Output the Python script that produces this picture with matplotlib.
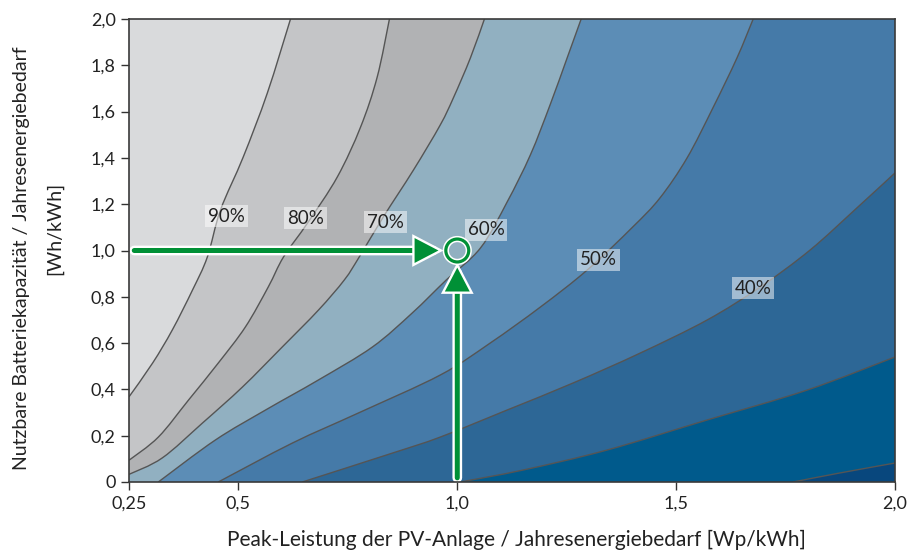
import matplotlib
matplotlib.use("Agg")
import matplotlib.pyplot as plt
from matplotlib import patheffects
from matplotlib.path import Path
from matplotlib.patches import PathPatch

# Isolines of the self-sufficiency share (PV peak power vs. battery capacity,
# both normalised to the annual energy demand)
levels = [90, 80, 70, 60, 50, 40, 30, 20]

iso_90_x = [0.619, 0.566, 0.511, 0.459, 0.429, 0.395, 0.349, 0.304, 0.25]
iso_90_y = [2.0, 1.680, 1.404, 1.175, 0.972, 0.829, 0.657, 0.514, 0.368]

iso_80_x = [0.845, 0.817, 0.779, 0.726, 0.658, 0.603, 0.568, 0.516, 0.454, 0.386, 0.317, 0.25]
iso_80_y = [2.0, 1.749, 1.533, 1.318, 1.119, 0.972, 0.842, 0.670, 0.514, 0.354, 0.194, 0.094]

iso_70_x = [1.062, 1.030, 0.991, 0.961, 0.900, 0.831, 0.776, 0.742, 0.683, 0.600, 0.509, 0.418, 0.326, 0.25]
iso_70_y = [2.0, 1.832, 1.659, 1.542, 1.348, 1.145, 0.972, 0.873, 0.743, 0.583, 0.410, 0.255, 0.104, 0.033]

iso_60_x = [1.283, 1.251, 1.212, 1.167, 1.114, 1.053, 0.975, 0.897, 0.806, 0.683, 0.562, 0.447, 0.317]
iso_60_y = [2.0, 1.832, 1.629, 1.413, 1.210, 1.011, 0.873, 0.730, 0.583, 0.441, 0.311, 0.181, 0.0]

iso_50_x = [1.676, 1.639, 1.584, 1.525, 1.463, 1.400, 1.297, 1.190, 1.075, 0.961, 0.774, 0.623, 0.454]
iso_50_y = [2.0, 1.832, 1.616, 1.400, 1.227, 1.100, 0.916, 0.756, 0.600, 0.462, 0.298, 0.168, 0.0]

iso_40_x = [2.0, 1.913, 1.806, 1.692, 1.571, 1.418, 1.265, 1.114, 0.961, 0.852, 0.646]
iso_40_y = [1.335, 1.184, 1.002, 0.842, 0.700, 0.557, 0.428, 0.311, 0.194, 0.125, 0.0]

iso_30_x = [2.0, 1.799, 1.571, 1.342, 1.151, 1.007]
iso_30_y = [0.540, 0.397, 0.268, 0.138, 0.052, 0.0]

iso_20_x = [2.0, 1.874, 1.767]
iso_20_y = [0.082, 0.039, 0.0]

iso_x = [iso_90_x, iso_80_x, iso_70_x, iso_60_x, iso_50_x, iso_40_x, iso_30_x, iso_20_x]
iso_y = [iso_90_y, iso_80_y, iso_70_y, iso_60_y, iso_50_y, iso_40_y, iso_30_y, iso_20_y]

# label positions for the named isolines
label_text = ["90%", "80%", "70%", "60%", "50%", "40%"]
label_x = [0.473, 0.653, 0.836, 1.066, 1.322, 1.676]
label_y = [1.149, 1.140, 1.123, 1.089, 0.959, 0.838]

x_ticks = [0.25, 0.5, 1.0, 1.5, 2.0]
x_ticklabels = ["0,25", "0,5", "1,0", "1,5", "2,0"]
y_ticks = [0, 0.2, 0.4, 0.6, 0.8, 1.0, 1.2, 1.4, 1.6, 1.8, 2.0]
y_ticklabels = ["0", "0,2", "0,4", "0,6", "0,8", "1,0", "1,2", "1,4", "1,6", "1,8", "2,0"]

example_pv = 1.0
example_bat = 1.0

# colours, above 90 % down to below 20 %
band_colors = ["#d9dadc", "#c4c5c7", "#b1b2b4", "#91b0c1", "#5c8db6",
               "#457aa8", "#2d6796", "#005a8c", "#08477d"]
green = "#009036"

X0, X1, Y0, Y1 = 0.25, 2.0, 0.0, 2.0


def smooth_path(xs, ys):
    """Catmull-Rom through the points, written as cubic bezier segments."""
    p = list(zip(xs, ys))
    verts = [p[0]]
    codes = [Path.MOVETO]
    n = len(p)
    for i in range(n - 1):
        p0 = p[max(i - 1, 0)]
        p1, p2 = p[i], p[i + 1]
        p3 = p[min(i + 2, n - 1)]
        c1 = (p1[0] + (p2[0] - p0[0]) / 6, p1[1] + (p2[1] - p0[1]) / 6)
        c2 = (p2[0] - (p3[0] - p1[0]) / 6, p2[1] - (p3[1] - p1[1]) / 6)
        verts += [c1, c2, p2]
        codes += [Path.CURVE4] * 3
    return verts, codes


plt.rcParams['font.family'] = ['Lato', 'DejaVu Sans']
plt.rcParams['text.color'] = '#222222'

fig = plt.figure(figsize=(9.14, 5.54), dpi=100)
ax = fig.add_axes([129/914, 72/554, 766/914, 463/554])
ax.set_xlim(X0, X1)
ax.set_ylim(Y0, Y1)

# background = lowest band, then stack the regions above-left of every isoline
ax.add_patch(PathPatch(Path([(X0, Y0), (X1, Y0), (X1, Y1), (X0, Y1), (X0, Y0)], closed=True),
                       fc=band_colors[-1], ec='none', zorder=1))
for i in range(len(levels) - 1, -1, -1):
    xs, ys = iso_x[i], iso_y[i]
    verts, codes = smooth_path(xs, ys)
    extra = []
    if ys[-1] == Y0:
        extra.append((X0, Y0))
    extra.append((X0, Y1))
    if xs[0] == X1:
        extra.append((X1, Y1))
    verts = verts + extra + [verts[0]]
    codes = codes + [Path.LINETO] * len(extra) + [Path.CLOSEPOLY]
    ax.add_patch(PathPatch(Path(verts, codes), fc=band_colors[i], ec='none', zorder=1))

for xs, ys in zip(iso_x, iso_y):
    verts, codes = smooth_path(xs, ys)
    ax.add_patch(PathPatch(Path(verts, codes), fc='none', ec='#555555', lw=1.0, zorder=2))

for t, lx, ly in zip(label_text, label_x, label_y):
    ax.text(lx, ly, t, ha='center', va='center', fontsize=13.5, zorder=3,
            bbox=dict(boxstyle='square,pad=0.15', fc='white', ec='none', alpha=0.5))

# example reading: arrows from both axes to the operating point
stroke = [patheffects.withStroke(linewidth=7, foreground='white')]
arr = dict(arrowstyle='-|>,head_length=1.15,head_width=0.6', color=green, lw=3.6,
           shrinkA=0, shrinkB=0, mutation_scale=10, capstyle='round', joinstyle='miter')
a1 = ax.annotate('', xy=(0.957, example_bat), xytext=(0.262, example_bat),
                 arrowprops=arr, zorder=4)
a1.arrow_patch.set_path_effects(stroke)
a2 = ax.annotate('', xy=(example_pv, 0.926), xytext=(example_pv, 0.018),
                 arrowprops=arr, zorder=4)
a2.arrow_patch.set_path_effects(stroke)
pt, = ax.plot([example_pv], [example_bat], 'o', ms=16.5, mfc='none', mec=green, mew=2.3, zorder=5)
pt.set_path_effects([patheffects.withStroke(linewidth=4.5, foreground='white')])

ax.set_xticks(x_ticks)
ax.set_xticklabels(x_ticklabels)
ax.set_yticks(y_ticks)
ax.set_yticklabels(y_ticklabels)
ax.tick_params(direction='out', length=5.5, width=1.0, color='#333333',
               labelsize=13, labelcolor='#222222', pad=4)
for s in ax.spines.values():
    s.set_color('#3a3a3a')
    s.set_linewidth(1.2)
    s.set_zorder(6)

fig.text(516/914, 1 - 540/554, "Peak-Leistung der PV-Anlage / Jahresenergiebedarf [Wp/kWh]",
         ha='center', va='center', fontsize=15)
fig.text(22/914, 1 - 258/554, "Nutzbare Batteriekapazität / Jahresenergiebedarf",
         ha='center', va='center', rotation=90, fontsize=14)
fig.text(55/914, 1 - 228/554, "[Wh/kWh]", ha='center', va='center', rotation=90, fontsize=14)

fig.savefig("out.png", dpi=100)
